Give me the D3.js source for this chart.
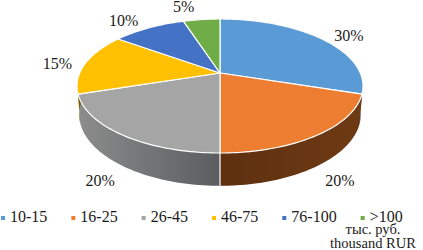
<!DOCTYPE html>
<html>
<head>
<meta charset="utf-8">
<script src="https://cdn.jsdelivr.net/npm/d3@7"></script>
<style>
  html, body { margin: 0; padding: 0; background: #fff; }
  svg { display: block; }
  text { font-family: "Liberation Serif", serif; fill: #1a1a1a; }
</style>
</head>
<body>
<svg width="423" height="250"></svg>
<script>
var categories = ["10-15", "16-25", "26-45", "46-75", "76-100", ">100"];
var values = [30, 20, 20, 15, 10, 5];
var percentLabels = ["30%", "20%", "20%", "15%", "10%", "5%"];
var colors = ["#5b9bd5", "#ed7d31", "#a5a5a5", "#ffc000", "#4472c4", "#70ad47"];
var sideLight = ["#3f6f9c", "#6e3a14", "#8c8c8c", "#a07a00", "#2c4a80", "#47702c"];
var sideDark = ["#2c4f70", "#5e300f", "#5a5d60", "#7a5c00", "#203660", "#345220"];
var unitLines = ["тыс. руб.", "thousand RUR"];

var svg = d3.select("svg");
var defs = svg.append("defs");

var cx = 220, cy = 73, rx = 140.3, ry = 64.5, persp = 0.194, depth = 27.4;

var color = d3.scaleOrdinal().domain(categories).range(colors);
var pie = d3.pie().sort(null).value(function (d) { return d; });
var arcs = pie(values);

// tilted disc with a bit of perspective, the far side is smaller
function project(a, drop, shrink) {
  var u = Math.sin(a), v = Math.cos(a);
  var s = 1 / (1 + persp * v);
  return [cx + rx * shrink * u * s, cy - ry * shrink * v * s + drop * s];
}

function rimPoints(d, drop, shrink) {
  var n = Math.max(2, Math.ceil((d.endAngle - d.startAngle) * 40));
  return d3.range(n + 1).map(function (i) {
    return project(d.startAngle + (d.endAngle - d.startAngle) * i / n, drop, shrink);
  });
}

var line = d3.line();

// side wall
arcs.forEach(function (d, i) {
  var grad = defs.append("linearGradient")
      .attr("id", "side" + i)
      .attr("gradientUnits", "userSpaceOnUse")
      .attr("x1", Math.min(project(d.startAngle, 0, 1)[0], project(d.endAngle, 0, 1)[0]))
      .attr("x2", Math.max(project(d.startAngle, 0, 1)[0], project(d.endAngle, 0, 1)[0]))
      .attr("y1", 0).attr("y2", 0);
  grad.append("stop").attr("offset", 0).attr("stop-color", i == 2 ? sideLight[i] : sideDark[i]);
  grad.append("stop").attr("offset", 1).attr("stop-color", i == 2 ? sideDark[i] : sideLight[i]);
});

svg.append("g").selectAll("path")
  .data(arcs)
  .join("path")
    .attr("d", function (d) {
      var top = rimPoints(d, 0, 1);
      var bottom = rimPoints(d, depth, 0.985).reverse();
      return line(top.concat(bottom)) + "Z";
    })
    .attr("fill", function (d, i) { return "url(#side" + i + ")"; });

// white seam on the wall between the two front slices
svg.append("path")
  .attr("d", line([project(arcs[1].endAngle, 0, 1), project(arcs[1].endAngle, depth, 0.985)]))
  .attr("stroke", "#fff")
  .attr("stroke-width", 1.2);

// top face
svg.append("g").selectAll("path")
  .data(arcs)
  .join("path")
    .attr("d", function (d) {
      return line([[cx, cy]].concat(rimPoints(d, 0, 1))) + "Z";
    })
    .attr("fill", function (d, i) { return color(categories[i]); })
    .attr("stroke", "#fff")
    .attr("stroke-width", 1.2)
    .attr("stroke-linejoin", "round");

// percent labels, pushed out from the slice's rim point
var labelNudge = [[27, 2], [22, 51], [-22, 51], [-28, 6], [-25, -2], [-18, -8]];
svg.append("g").selectAll("text")
  .data(arcs)
  .join("text")
    .attr("x", function (d, i) { return project((d.startAngle + d.endAngle) / 2, 0, 1)[0] + labelNudge[i][0]; })
    .attr("y", function (d, i) { return project((d.startAngle + d.endAngle) / 2, 0, 1)[1] + labelNudge[i][1]; })
    .attr("text-anchor", "middle")
    .attr("font-size", 16)
    .text(function (d, i) { return percentLabels[i]; });

// legend, each entry starts after the previous text
var legendX = 10;
var legend = svg.append("g");
categories.forEach(function (c) {
  var g = legend.append("g").attr("transform", "translate(" + legendX + ",222)");
  g.append("rect")
      .attr("x", -9).attr("y", -6)
      .attr("width", 4).attr("height", 4)
      .attr("fill", color(c));
  var t = g.append("text").attr("font-size", 16).text(c);
  legendX += t.node().getComputedTextLength() + 33;
});

svg.append("g").selectAll("text")
  .data(unitLines)
  .join("text")
    .attr("x", 373)
    .attr("y", function (d, i) { return 233.5 + i * 14.5; })
    .attr("text-anchor", "middle")
    .attr("font-size", 14.5)
    .text(function (d) { return d; });
</script>
</body>
</html>
